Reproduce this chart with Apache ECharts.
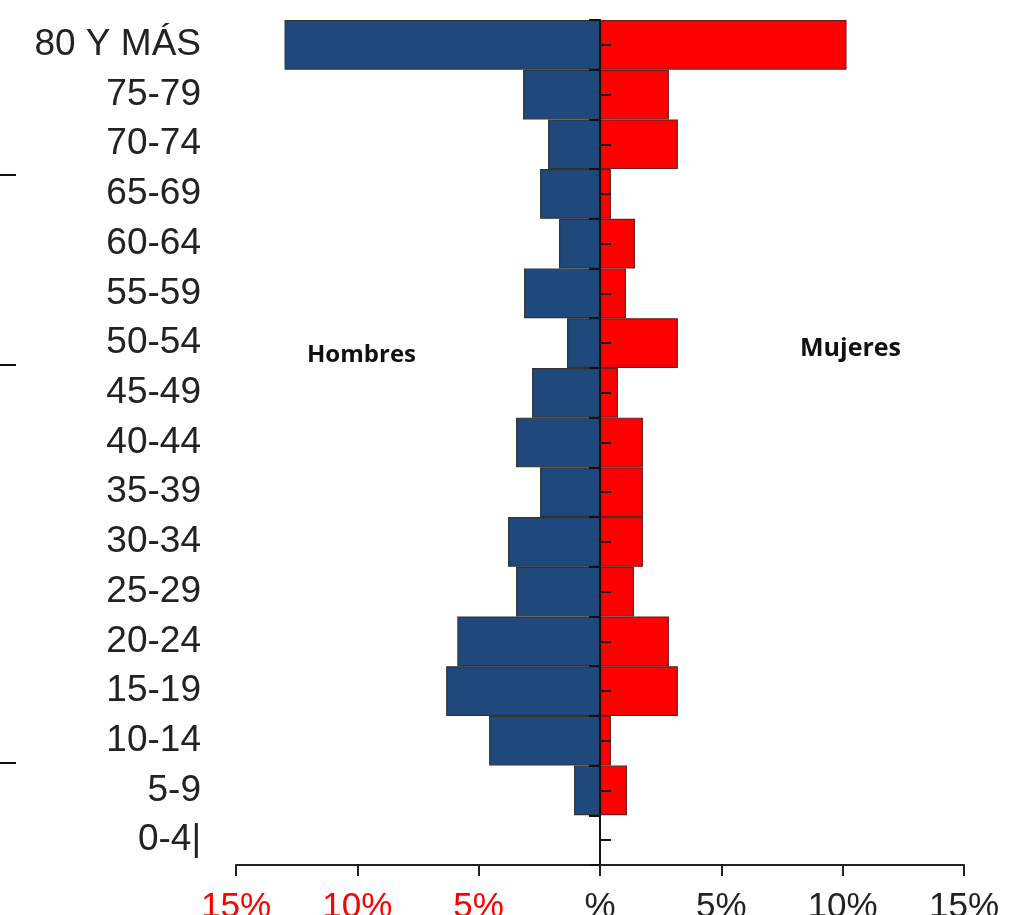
<!DOCTYPE html>
<html>
<head>
<meta charset="utf-8">
<script src="https://cdn.jsdelivr.net/npm/echarts@6/dist/echarts.min.js"></script>
<style>html,body{margin:0;padding:0;background:#fff}#c{width:1017px;height:915px}</style>
</head>
<body>
<div id="c"></div>
<script>
// categories bottom to top
var categories = ['0-4|','5-9','10-14','15-19','20-24','25-29','30-34','35-39','40-44','45-49','50-54','55-59','60-64','65-69','70-74','75-79','80 Y MÁS'];
var hombres = [0, 1.07, 4.57, 6.34, 5.88, 3.46, 3.79, 2.47, 3.46, 2.8, 1.36, 3.13, 1.69, 2.47, 2.14, 3.17, 13.0];
var mujeres = [0, 1.11, 0.45, 3.21, 2.84, 1.40, 1.77, 1.77, 1.77, 0.74, 3.21, 1.07, 1.44, 0.45, 3.21, 2.84, 10.16];
var xTickValues = [-15, -10, -5, 0, 5, 10, 15];
var xTickLabels = ['15%', '10%', '5%', '%', '5%', '10%', '15%'];

var chart = echarts.init(document.getElementById('c'));
var gridLeft = 236, gridRight = 53;
var halfW = (1017 - gridLeft - gridRight) / 2;

function labelFor(v) {
  var i = xTickValues.indexOf(v);
  return i >= 0 ? xTickLabels[i] : '';
}

chart.setOption({
  animation: false,
  backgroundColor: '#fff',
  grid: { left: gridLeft, right: gridRight, top: 20, bottom: 50, containLabel: false, outerBoundsMode: 'none' },
  xAxis: {
    type: 'value', min: -15, max: 15, interval: 5, z: 5,
    axisLine: { show: true, onZero: false, lineStyle: { color: '#222', width: 2 } },
    axisTick: { show: true, length: 11, lineStyle: { color: '#222', width: 2 } },
    splitLine: { show: false },
    axisLabel: {
      margin: 25,
      fontFamily: 'Liberation Sans',
      fontSize: 35,
      formatter: function (v) { return labelFor(v); },
      color: function (v) { return Number(v) < 0 ? '#ff0000' : '#222'; }
    }
  },
  yAxis: [
    {
      type: 'category', data: categories, position: 'left',
      axisLine: { show: false, onZero: false },
      axisTick: { show: false },
      axisLabel: { margin: 35, fontFamily: 'Liberation Sans', fontSize: 37, color: '#222' }
    },
    {
      type: 'category', data: categories, position: 'left', offset: -halfW, z: 5,
      axisLine: { show: true, onZero: false, lineStyle: { color: '#111', width: 2 } },
      axisTick: { show: true, alignWithLabel: true, inside: true, length: 11, lineStyle: { color: '#111', width: 2 } },
      axisLabel: { show: false }
    },
    {
      type: 'category', data: categories, position: 'left', offset: -halfW, z: 5,
      axisLine: { show: false, onZero: false },
      axisTick: { show: true, inside: false, length: 11, lineStyle: { color: '#111', width: 2 } },
      axisLabel: { show: false }
    }
  ],
  series: [
    {
      name: 'Hombres', type: 'bar', stack: 'p', yAxisIndex: 0, barCategoryGap: 0,
      data: hombres.map(function (v) { return -v; }),
      itemStyle: { color: '#1f497d', borderColor: '#333', borderWidth: 1.2 },
      z: 1
    },
    {
      name: 'Mujeres', type: 'bar', stack: 'p', yAxisIndex: 0, barCategoryGap: 0,
      data: mujeres,
      itemStyle: { color: '#ff0000', borderColor: '#6b2020', borderWidth: 1.2 },
      z: 1
    }
  ],
  graphic: [
    { type: 'text', left: 307, top: 343, style: { text: 'Hombres', fontFamily: 'Open Sans', fontWeight: 'bold', fontSize: 24, fill: '#111' } },
    { type: 'text', left: 800, top: 336, style: { text: 'Mujeres', fontFamily: 'Open Sans', fontWeight: 'bold', fontSize: 25, fill: '#111' } },
    { type: 'line', shape: { x1: 0, y1: 175, x2: 16, y2: 175 }, style: { stroke: '#111', lineWidth: 2 } },
    { type: 'line', shape: { x1: 0, y1: 365, x2: 16, y2: 365 }, style: { stroke: '#111', lineWidth: 2 } },
    { type: 'line', shape: { x1: 0, y1: 763, x2: 16, y2: 763 }, style: { stroke: '#111', lineWidth: 2 } }
  ]
});
</script>
</body>
</html>
